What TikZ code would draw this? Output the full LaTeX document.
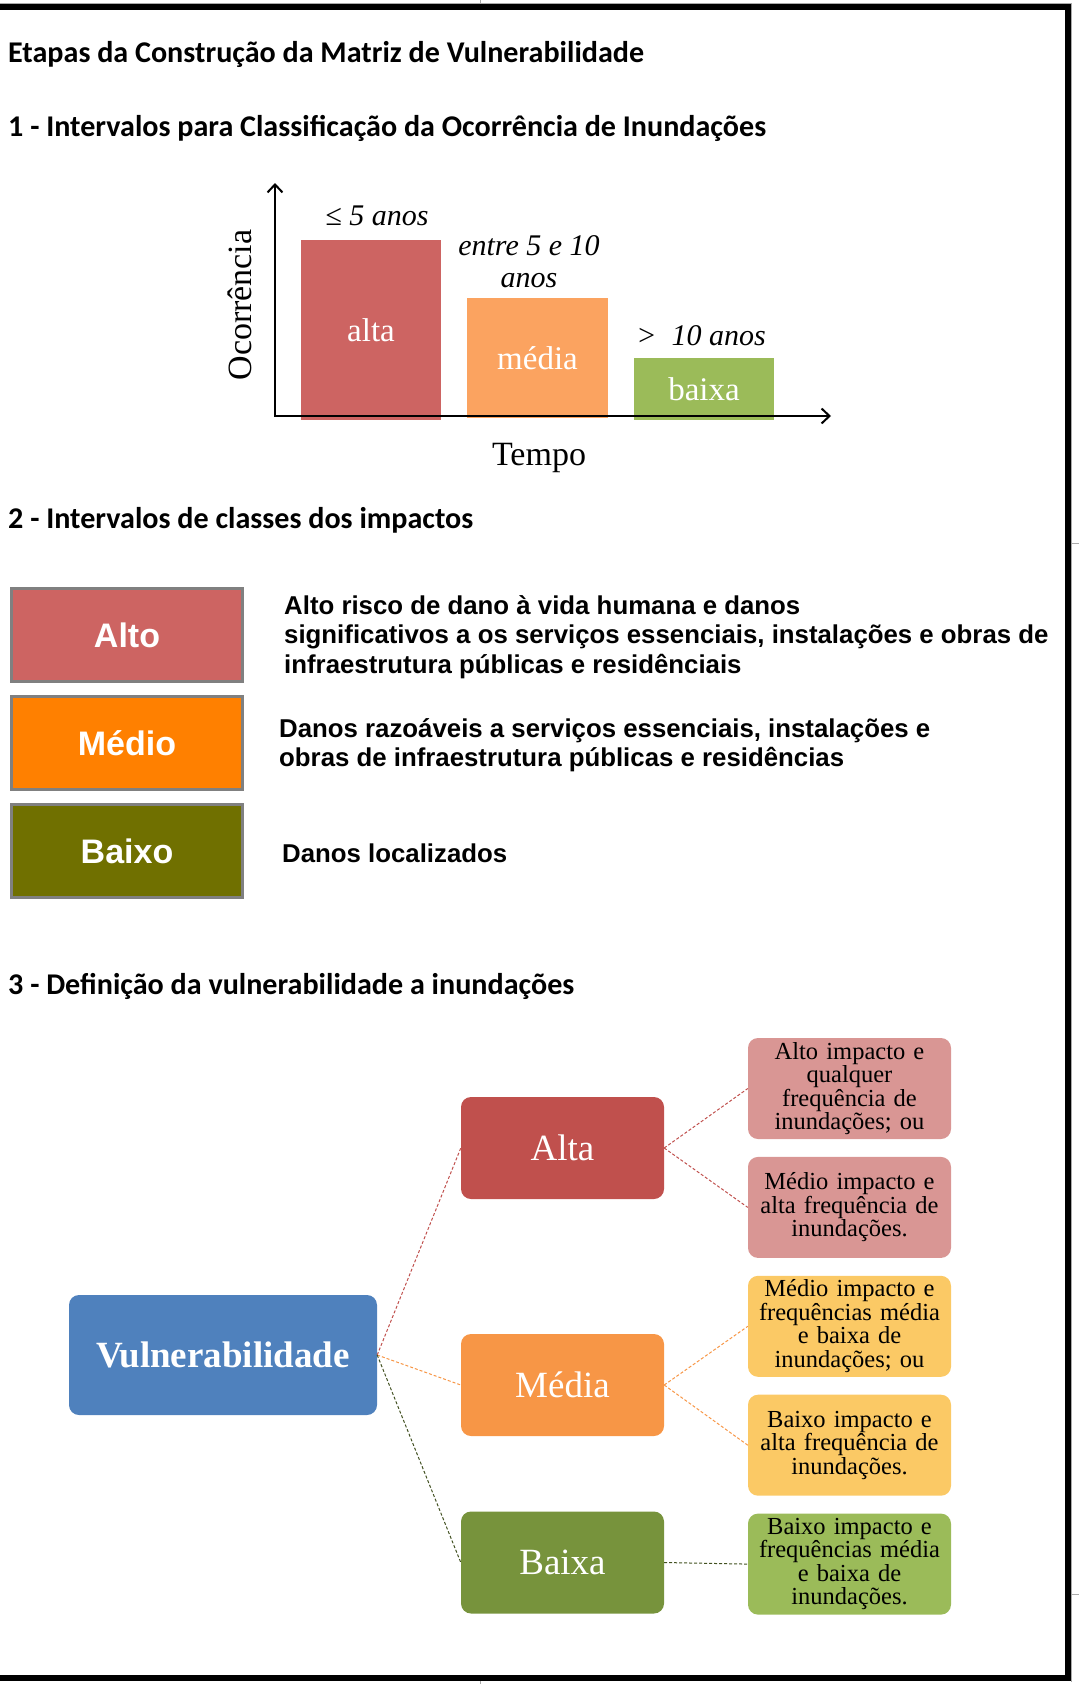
\documentclass[tikz,border=0pt]{standalone}
\definecolor{barred}{RGB}{205,100,98}
\definecolor{barorange}{RGB}{251,163,96}
\definecolor{bargreen}{RGB}{155,187,89}
\definecolor{legorange}{RGB}{255,128,0}
\definecolor{legolive}{RGB}{112,112,0}
\definecolor{vulnblue}{RGB}{79,129,189}
\definecolor{altared}{RGB}{192,80,77}
\definecolor{mediaorange}{RGB}{247,150,70}
\definecolor{baixagreen}{RGB}{119,147,60}
\definecolor{leafred}{RGB}{217,150,148}
\definecolor{leafyellow}{RGB}{251,201,101}
\definecolor{leafgreen}{RGB}{155,187,89}
\definecolor{framegray}{RGB}{170,170,170}
\usepackage{fontspec}
\setmainfont{Liberation Serif}
\newfontfamily\calibri{Carlito}
\newfontfamily\arial{Liberation Sans}
\usepackage{tikz}
\usetikzlibrary{arrows.meta, positioning}
\tikzset{
  heading/.style={anchor=base west, inner sep=0pt,
    font=\calibri\bfseries\fontsize{30.1}{34}\selectfont},
  bar/.style={rectangle, inner sep=0pt, text=white,
    font=\fontsize{33}{36}\selectfont},
  barlabel/.style={anchor=base, inner sep=0pt,
    font=\itshape\fontsize{30}{32}\selectfont},
  axislabel/.style={inner sep=0pt, font=\fontsize{34}{36}\selectfont},
  axis/.style={{Straight Barb[length=8pt,width=15pt]}-{Straight Barb[length=8pt,width=15pt]},
    line width=2pt},
  impactbox/.style={rectangle, draw=gray, line width=3pt,
    minimum width=231pt, minimum height=93pt, text=white,
    font=\arial\bfseries\fontsize{34}{40}\selectfont},
  impacttext/.style={anchor=west, inner sep=0pt, align=left,
    font=\arial\bfseries\fontsize{25.8}{29.5}\selectfont},
  level/.style={rectangle, rounded corners=10pt, minimum width=203pt,
    minimum height=102pt, text=white, font=\fontsize{37}{40}\selectfont},
  leaf/.style={rectangle, rounded corners=10pt, minimum width=203pt,
    minimum height=101pt, text width=199pt, inner sep=0pt, align=center,
    font=\fontsize{24.5}{23.5}\selectfont},
  link/.style={densely dashed, line width=1pt},
}
\begin{document}
\begin{tikzpicture}[x=1pt, y=-1pt, node distance=17.5pt]
  \useasboundingbox (0,0) rectangle (1079,1684);
  % frame
  \draw[framegray, line width=1pt] (0,3) -- (1072,3) (1071.5,3) -- (1071.5,1682);
  \draw[framegray, line width=1pt] (480,0) -- (480,4) (480,1681) -- (480,1684)
    (1071,543) -- (1079,543) (1071,1594) -- (1079,1594);
  \draw[line width=6pt] (0,7) -| (1068,1678) -- (0,1678);

  \node[heading] (title) at (8,62) {Etapas da Construção da Matriz de Vulnerabilidade};
  \node[heading] (h1) at (8,136) {1 - Intervalos para Classificação da Ocorrência de Inundações};

  % chart
  \coordinate (ytop) at (275,183);
  \coordinate (xend) at (831,416);
  \node[bar, fill=barred, minimum width=140pt, minimum height=180pt] (abar) at (371,330) {alta};
  \node[bar, fill=barorange, minimum width=141pt, minimum height=120pt] (mbar) at (537.5,358) {média};
  \node[bar, fill=bargreen, minimum width=140pt, minimum height=62pt] (bbar) at (704,389) {baixa};
  \draw[axis] (ytop) |- (xend);
  \node[barlabel] (alab) at (377,225) {≤ 5 anos};
  \node[barlabel] (mlab1) at (529,255) {entre 5 e 10};
  \node[barlabel] (mlab2) at (529,287) {anos};
  \node[barlabel] (blab) at (701,345) {>\ \ 10 anos};
  \node[axislabel, rotate=90] (ylab) at (240,305) {Ocorrência};
  \node[axislabel, anchor=base] (xlab) at (539,465) {Tempo};

  \node[heading] (h2) at (8,528) {2 - Intervalos de classes dos impactos};

  % impact classes
  \node[impactbox, fill=barred] (alto) at (127,635) {Alto};
  \node[impactbox, fill=legorange, below=12pt of alto] (medio) {Médio};
  \node[impactbox, fill=legolive, below=12pt of medio] (baixo) {Baixo};
  \node[impacttext] (altotxt) at (284,637) {Alto risco de dano à vida humana e danos\\
    significativos a os serviços essenciais, instalações e obras de\\
    infraestrutura públicas e residênciais};
  \node[impacttext] (mediotxt) at (279,745) {Danos razoáveis a serviços essenciais, instalações e\\
    obras de infraestrutura públicas e residências};
  \node[impacttext] (baixotxt) at (282,853) {Danos localizados};

  \node[heading] (h3) at (8,994) {3 - Definição da vulnerabilidade a inundações};

  % vulnerability tree
  \node[level, fill=vulnblue, minimum width=308pt, minimum height=120pt,
    font=\bfseries\fontsize{37}{40}\selectfont] (vuln) at (223,1355) {Vulnerabilidade};
  \node[level, fill=altared] (alta) at (562.5,1148) {Alta};
  \node[level, fill=mediaorange] (media) at (562.5,1385) {Média};
  \node[level, fill=baixagreen] (baixa) at (562.5,1562.5) {Baixa};
  \node[leaf, fill=leafred] (r1) at (849.5,1088.5) {Alto impacto e\\ qualquer\\ frequência de\\ inundações; ou};
  \node[leaf, fill=leafred, below=of r1] (r2) {Médio impacto e\\ alta frequência de\\ inundações.};
  \node[leaf, fill=leafyellow, below=of r2] (r3) {Médio impacto e\\ frequências média\\ e baixa de\\ inundações; ou};
  \node[leaf, fill=leafyellow, below=of r3] (r4) {Baixo impacto e\\ alta frequência de\\ inundações.};
  \node[leaf, fill=leafgreen, below=of r4] (r5) {Baixo impacto e\\ frequências média\\ e baixa de\\ inundações.};
  \draw[link, altared] (vuln.east) -- (alta.west);
  \draw[link, mediaorange] (vuln.east) -- (media.west);
  \draw[link, baixagreen!55!black] (vuln.east) -- (baixa.west);
  \draw[link, altared] (alta.east) -- (r1.west);
  \draw[link, altared] (alta.east) -- (r2.west);
  \draw[link, mediaorange] (media.east) -- (r3.west);
  \draw[link, mediaorange] (media.east) -- (r4.west);
  \draw[link, baixagreen!55!black] (baixa.east) -- (r5.west);
\end{tikzpicture}
\end{document}
